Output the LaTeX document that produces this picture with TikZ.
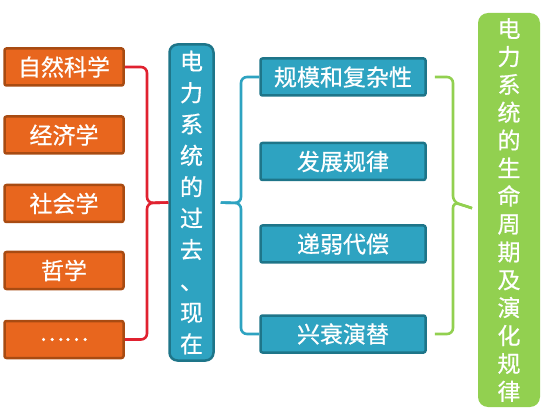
\documentclass[tikz,border=0pt]{standalone}
\usepackage{fontspec}
\setmainfont{Noto Sans CJK SC}[FakeBold=0.6]
\definecolor{orfill}{HTML}{E8661E}
\definecolor{ordraw}{HTML}{A84B12}
\definecolor{tlfill}{HTML}{2EA3C1}
\definecolor{tldraw}{HTML}{1E7589}
\definecolor{redln}{HTML}{E0212F}
\definecolor{grfill}{HTML}{92D050}
\begin{document}
\begin{tikzpicture}[x=1pt,y=-1pt,
	obox/.style={draw=ordraw,fill=orfill,line width=2.5pt,rounded corners=2pt,
		minimum width=119pt,minimum height=37pt,inner sep=0pt,text=white,
		font=\fontsize{23}{27}\selectfont},
	tbox/.style={draw=tldraw,fill=tlfill,line width=2.5pt,rounded corners=2pt,
		minimum width=165pt,minimum height=37pt,inner sep=0pt,text=white,
		font=\fontsize{23}{27}\selectfont},
	brace/.style={line width=2.6pt,rounded corners=6pt}]
	  \useasboundingbox (0,0) rectangle (542,412);
	  % left column
	  \node[obox] (o1) at (64,67) {自然科学};
	  \node[obox] (o2) at (64,135) {经济学};
	  \node[obox] (o3) at (64,203.5) {社会学};
	  \node[obox] (o4) at (64,270.5) {哲学};
	  \node[obox] (o5) at (64,339.5) {……};
	  % centre
	  \node[draw=tldraw,fill=tlfill,line width=2.5pt,rounded corners=8pt,
	    minimum width=44pt,minimum height=316pt,inner sep=0pt,text=white,align=center,
	    font=\fontsize{23}{31.4}\selectfont] (past) at (191.5,202.5)
	    {电\\力\\系\\统\\的\\过\\去\\、\\现\\在};
	  \node[tbox] (m1) at (343,77) {规模和复杂性};
	  \node[tbox] (m2) at (343,161.5) {发展规律};
	  \node[tbox] (m3) at (343,244) {递弱代偿};
	  \node[tbox] (m4) at (343,334) {兴衰演替};
	  % right
	  \node[fill=grfill,rounded corners=10pt,minimum width=62pt,minimum height=394pt,
	    inner sep=0pt,text=white,align=center,
	    font=\fontsize{23}{27.9}\selectfont] (life) at (509,210)
	    {电\\力\\系\\统\\的\\生\\命\\周\\期\\及\\演\\化\\规\\律};
	  % braces
	  \coordinate (rb) at (147,203);
	  \coordinate (tb) at (241,203);
	  \coordinate (gb) at (453,202);
	  \draw[brace,redln] (o1.east) -| (rb) -- (past.west);
	  \draw[brace,redln] (o5.east) -| (rb) -- (past.west);
	  \draw[brace,tlfill,shorten >=6pt] (m1.west) -| (tb) -- (past.east);
	  \draw[brace,tlfill,shorten >=6pt] (m4.west) -| (tb) -- (past.east);
	  \draw[brace,grfill,shorten <=8pt,shorten >=6pt] (m1.east) -| (gb) -- (life.west);
	  \draw[brace,grfill,shorten <=8pt,shorten >=6pt] (m4.east) -| (gb) -- (life.west);
	\end{tikzpicture}
\end{document}
